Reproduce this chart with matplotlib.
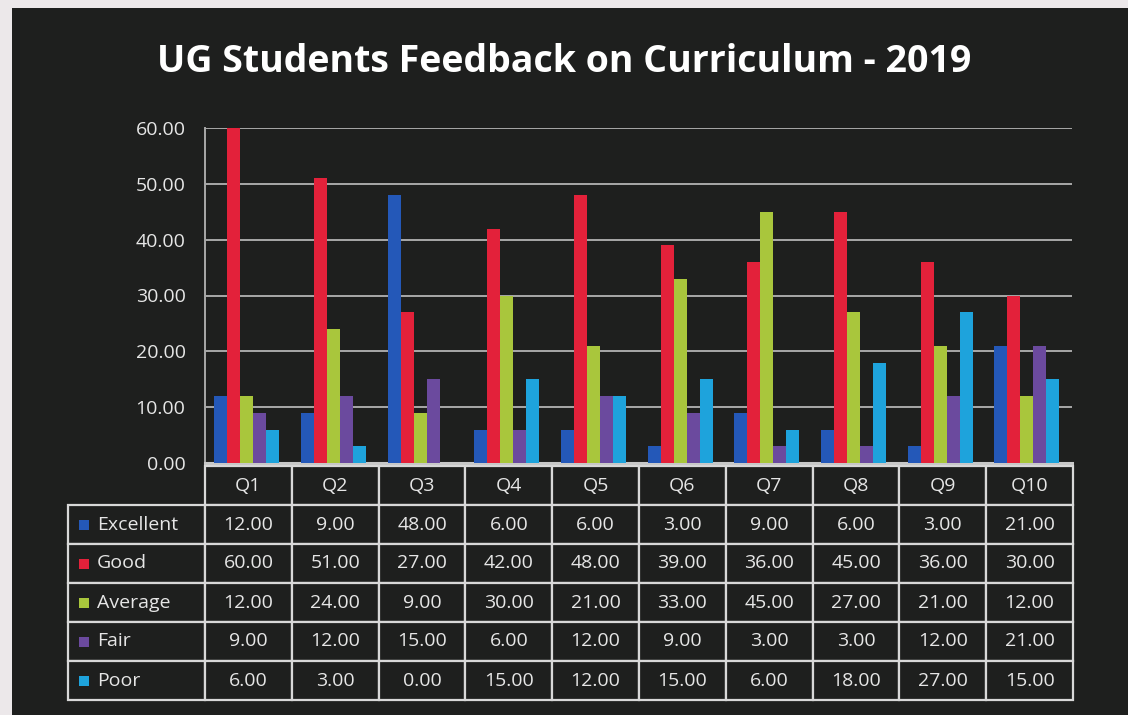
import numpy as np
import matplotlib
matplotlib.use('Agg')
from matplotlib import pyplot as plt
from matplotlib.patches import Rectangle

questions = ['Q1', 'Q2', 'Q3', 'Q4', 'Q5', 'Q6', 'Q7', 'Q8', 'Q9', 'Q10']
series_names = ['Excellent', 'Good', 'Average', 'Fair', 'Poor']
excellent = [12, 9, 48, 6, 6, 3, 9, 6, 3, 21]
good = [60, 51, 27, 42, 48, 39, 36, 45, 36, 30]
average = [12, 24, 9, 30, 21, 33, 45, 27, 21, 12]
fair = [9, 12, 15, 6, 12, 9, 3, 3, 12, 21]
poor = [6, 3, 0, 15, 12, 15, 6, 18, 27, 15]
y_ticks = [0, 10, 20, 30, 40, 50, 60]

series = [excellent, good, average, fair, poor]
colors = ['#2458b8', '#e3213a', '#a9c63c', '#6b4a9e', '#1ea3dc']
bg = '#1e1f1e'
fg = '#e6e6e6'
line = '#a8a8a8'

plt.rcParams['font.family'] = ['Open Sans', 'DejaVu Sans']

fig = plt.figure(figsize=(11.28, 7.15), dpi=100)
fig.patch.set_facecolor('#ece8ea')
# dark chart area inside the scanned page
fig.patches.append(Rectangle((12 / 1128, 0), 1 - 12 / 1128, 1 - 8 / 715,
                             transform=fig.transFigure, facecolor=bg,
                             edgecolor='none', zorder=-10))

ax = fig.add_axes([205 / 1128, 1 - 463 / 715, 867 / 1128, 335 / 715])
ax.set_facecolor(bg)

x = np.arange(len(questions))
w = 0.15
for i, (name, vals) in enumerate(zip(series_names, series)):
    ax.bar(x + (i - 2) * w - 0.02, vals, width=w, color=colors[i],
           label=name, zorder=3)

ax.set_xlim(-0.5, len(questions) - 0.5)
ax.set_ylim(0, 60)
ax.set_yticks(y_ticks)
ax.set_yticklabels(['{:.2f}'.format(v) for v in y_ticks], color=fg, fontsize=14)
ax.set_xticks([])
ax.tick_params(axis='y', length=0, pad=14)
ax.yaxis.grid(True, color=line, linewidth=1.4, zorder=1)
for s in ['top', 'right']:
    ax.spines[s].set_visible(False)
ax.spines['left'].set_color(line)
ax.spines['bottom'].set_color('#c8c8c8')
ax.spines['left'].set_linewidth(1.4)
ax.spines['bottom'].set_linewidth(2.2)

fig.text(0.5, 1 - 62 / 715, 'UG Students Feedback on Curriculum - 2019',
         ha='center', va='center', color='white', fontsize=27,
         fontweight='bold')

# data table below the axis
cell_text = [[name] + ['{:.2f}'.format(v) for v in vals]
             for name, vals in zip(series_names, series)]
label_w = 137 / 1005
col_w = (1 - label_w) / len(questions)
table_px = (68, 466, 1005, 234)
tb = ax.table(cellText=cell_text, colLabels=[''] + questions,
              colWidths=[label_w] + [col_w] * len(questions),
              cellLoc='center',
              bbox=[(table_px[0] - 205) / 867, (463 - table_px[1] - table_px[3]) / 335,
                    table_px[2] / 867, table_px[3] / 335])
tb.auto_set_font_size(False)
tb.set_fontsize(14)
for (r, c), cell in tb.get_celld().items():
    cell.set_facecolor(bg)
    cell.set_edgecolor('#d8d8d8')
    cell.set_linewidth(1.6)
    cell.get_text().set_color(fg)
    if r == 0 and c == 0:
        cell.set_edgecolor(bg)
        cell.visible_edges = ''
    if c == 0 and r > 0:
        cell.get_text().set_ha('left')
        cell._loc = 'left'
        cell.PAD = 0.21

# legend keys in the label column
row_h = table_px[3] / 6
for i, col in enumerate(colors):
    cy = table_px[1] + row_h * (i + 1.5)
    fig.patches.append(Rectangle((79 / 1128, 1 - (cy + 5) / 715), 10 / 1128, 10 / 715,
                                 transform=fig.transFigure, facecolor=col,
                                 edgecolor='none', zorder=5))

fig.savefig('out.png', dpi=100, facecolor=fig.get_facecolor())
